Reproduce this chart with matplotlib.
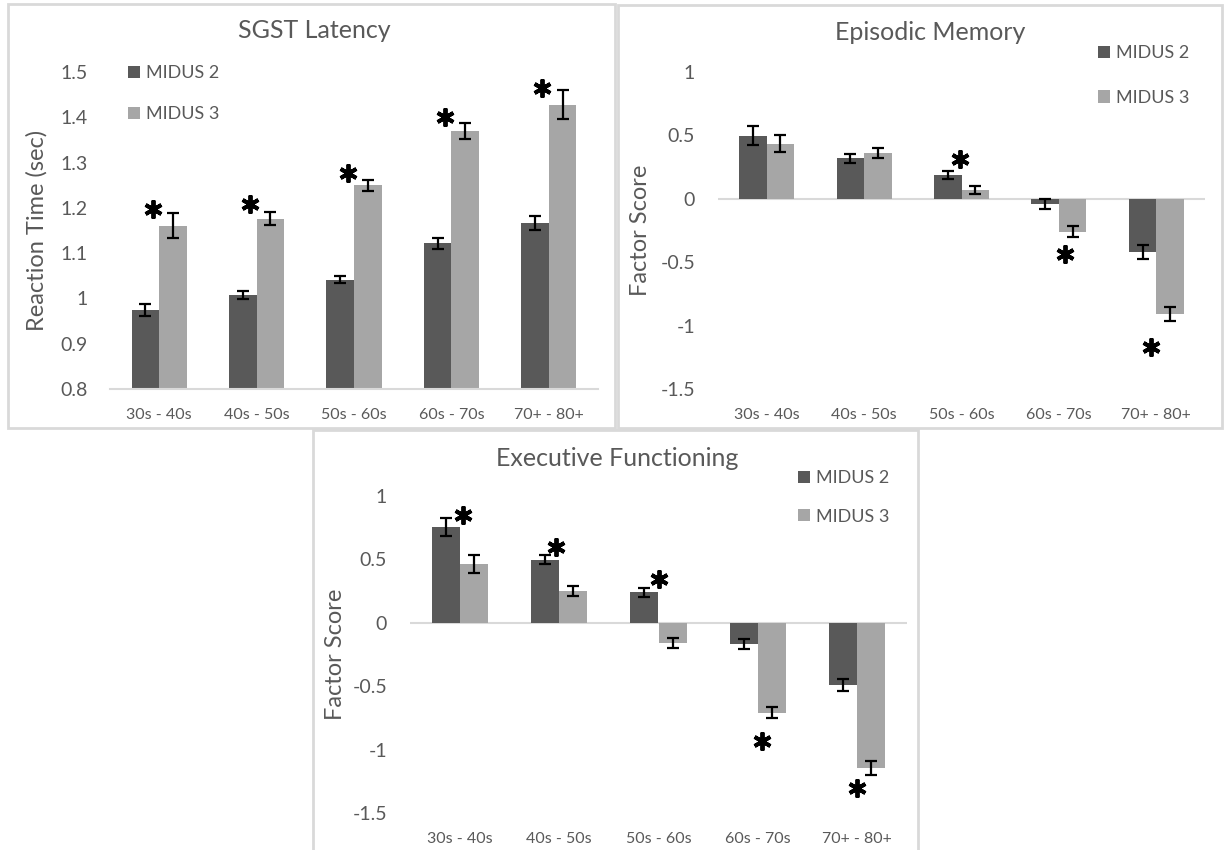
import matplotlib.pyplot as plt
from matplotlib.patches import Rectangle
import numpy as np

plt.rcParams['font.family'] = ['Lato', 'DejaVu Sans']

groups = ["30s - 40s", "40s - 50s", "50s - 60s", "60s - 70s", "70+ - 80+"]
series = ["MIDUS 2", "MIDUS 3"]

# SGST latency (sec)
sgst_m2 = [0.974, 1.008, 1.041, 1.122, 1.167]
sgst_m2_err = [0.013, 0.009, 0.008, 0.012, 0.016]
sgst_m3 = [1.161, 1.176, 1.250, 1.370, 1.428]
sgst_m3_err = [0.028, 0.014, 0.012, 0.0175, 0.0325]
sgst_star_idx = [0, 1, 2, 3, 4]
sgst_star_y = [1.198, 1.209, 1.278, 1.401, 1.465]

# Episodic memory factor scores
epi_m2 = [0.497, 0.318, 0.189, -0.04, -0.42]
epi_m2_err = [0.075, 0.037, 0.034, 0.038, 0.055]
epi_m3 = [0.434, 0.36, 0.068, -0.258, -0.91]
epi_m3_err = [0.067, 0.042, 0.032, 0.043, 0.054]
epi_star_idx = [2, 3, 4]
epi_star_y = [0.313, -0.434, -1.166]

# Executive functioning factor scores
exe_m2 = [0.755, 0.497, 0.242, -0.168, -0.49]
exe_m2_err = [0.07, 0.036, 0.036, 0.04, 0.05]
exe_m3 = [0.463, 0.253, -0.158, -0.708, -1.145]
exe_m3_err = [0.07, 0.038, 0.04, 0.045, 0.053]
exe_star_idx = [0, 1, 2, 3, 4]
exe_star_y = [0.85, 0.597, 0.347, -0.929, -1.30]

DARK, LIGHT, GREY, LINE = '#595959', '#a6a6a6', '#595959', '#d9d9d9'
W, H = 1225, 850
bw = 0.283

fig = plt.figure(figsize=(W / 100, H / 100), dpi=100)


def px_axes(left, top, right, bottom):
    return fig.add_axes([left / W, 1 - bottom / H, (right - left) / W, (bottom - top) / H])


def box(left, top, right, bottom):
    fig.patches.append(Rectangle((left / W, 1 - bottom / H), (right - left) / W, (bottom - top) / H,
                                 transform=fig.transFigure, fill=False, ec=LINE, lw=2))


def ax_pos_y(ax):
    p = ax.get_position()
    return ((1 - p.y1) * H, (1 - p.y0) * H)


def panel(ax, title, title_xy, ylabel, ylabel_x, m2, m2e, m3, m3e, ylim, yticks, ytl,
          star_idx, star_y, star_dx, leg_xy, leg_sp, base=None):
    x = np.arange(len(groups))
    ekw = dict(ecolor='black', elinewidth=1.6, capsize=4.5, capthick=1.6)
    ax.bar(x - bw / 2, m2, bw, color=DARK, label=series[0], yerr=m2e, error_kw=ekw, zorder=2)
    ax.bar(x + bw / 2, m3, bw, color=LIGHT, label=series[1], yerr=m3e, error_kw=ekw, zorder=2)
    ax.set_xlim(-0.5, len(groups) - 0.5)
    ax.set_ylim(*ylim)
    ax.set_yticks(yticks)
    ax.set_yticklabels(ytl)
    ax.set_xticks(x)
    ax.set_xticklabels(groups)
    for s in ax.spines.values():
        s.set_visible(False)
    if base is None:
        ax.spines['bottom'].set_visible(True)
        ax.spines['bottom'].set_color(LINE)
        ax.spines['bottom'].set_linewidth(1.5)
    else:
        ax.axhline(base, color=LINE, lw=1.5, zorder=1)
    ax.tick_params(axis='y', length=0, pad=16.5, labelsize=14, labelcolor=GREY)
    ax.tick_params(axis='x', length=0, pad=14, labelsize=11.5, labelcolor=GREY)
    ax.plot(x[star_idx] + np.array(star_dx), star_y, ls='none', marker=(6, 2, 0),
            ms=13, mew=2.8, color='black', zorder=3)
    ax.legend(loc='upper left', bbox_to_anchor=(leg_xy[0] / W, 1 - leg_xy[1] / H),
              bbox_transform=fig.transFigure, frameon=False, fontsize=13, labelcolor=GREY,
              handlelength=0.67, handleheight=0.67, handletextpad=0.35, borderpad=0,
              borderaxespad=0, labelspacing=leg_sp)
    fig.text(title_xy[0] / W, 1 - title_xy[1] / H, title, ha='center', va='center',
             fontsize=18, color=GREY)
    fig.text(ylabel_x / W, 1 - (sum(ax_pos_y(ax)) / 2) / H, ylabel, rotation=90,
             ha='center', va='center', fontsize=17, color=GREY)


box(8, 4, 615, 428)
box(618, 5, 1222, 428)
box(313, 430, 918, 852)

ax1 = px_axes(110.5, 72, 597.5, 389)
panel(ax1, "SGST Latency", (314, 30), "Reaction Time (sec)", 37,
      sgst_m2, sgst_m2_err, sgst_m3, sgst_m3_err, (0.8, 1.5),
      np.arange(0.8, 1.51, 0.1), ["0.8", "0.9", "1", "1.1", "1.2", "1.3", "1.4", "1.5"],
      sgst_star_idx, sgst_star_y, [-0.065] * 5, (128, 65), 1.4)

ftl = ["-1.5", "-1", "-0.5", "0", "0.5", "1"]
ax2 = px_axes(718, 72, 1205, 389)
panel(ax2, "Episodic Memory", (930, 32), "Factor Score", 640,
      epi_m2, epi_m2_err, epi_m3, epi_m3_err, (-1.5, 1),
      np.arange(-1.5, 1.01, 0.5), ftl,
      epi_star_idx, epi_star_y, [-0.02, 0.06, -0.05], (1098, 45), 1.6, base=0)

ax3 = px_axes(410, 496, 907, 813)
panel(ax3, "Executive Functioning", (617, 458), "Factor Score", 335,
      exe_m2, exe_m2_err, exe_m3, exe_m3_err, (-1.5, 1),
      np.arange(-1.5, 1.01, 0.5), ftl,
      exe_star_idx, exe_star_y, [0.03, -0.03, 0.0, 0.04, 0.0], (798, 470), 1.25, base=0)

fig.savefig("out.png", dpi=100, facecolor='white')
